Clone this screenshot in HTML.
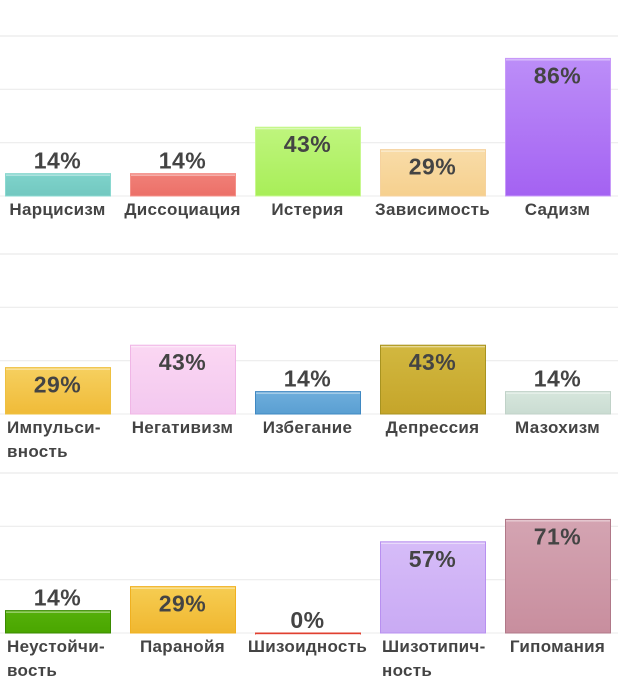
<!DOCTYPE html>
<html><head><meta charset="utf-8"><style>
body{margin:0;background:#fff;}
svg text{font-family:"Liberation Sans","DejaVu Sans",sans-serif;font-weight:bold;fill:#444;}
</style></head><body>
<svg id="c" width="618" height="681"></svg>
<script>
const labels1=["Нарцисизм","Диссоциация","Истерия","Зависимость","Садизм"];
const values1=[14,14,43,29,86];
const labels2=["Импульси-|вность","Негативизм","Избегание","Депрессия","Мазохизм"];
const values2=[29,43,14,43,14];
const labels3=["Неустойчи-|вость","Паранойя","Шизоидность","Шизотипич-|ность","Гипомания"];
const values3=[14,29,0,57,71];
const colors1=[["#7fd3cb","#72c8c0"],["#f08078","#ec7068"],["#bff57e","#a8ee58"],["#f8dca8","#f6d08e"],["#bc8ef8","#a462f2"]];
const colors2=[["#f6d060","#f0bb38"],["#fbd7f3","#f3c8ef"],["#6eaedc","#5a9fd2"],["#d2b840","#c5a52a"],["#d6e6dc","#cadcd2"]];
const colors3=[["#55b00a","#4aa600"],["#f6cd52","#f0b730"],["#ffffff","#ffffff"],["#d6bcf8","#c9aaf4"],["#d4a4b2","#c88e9e"]];
const edge=[["#8ad8d0","#f49088","#c8f890","#f5d29e","#c89af9"],["#eec040","#f0b6e6","#3f88c2","#a89320","#c0d2c8"],["#3a8a00","#f0b020","#e04030","#b890f0","#b07888"]];
const panels=[{l:labels1,v:values1,c:colors1,b:196},{l:labels2,v:values2,c:colors2,b:414},{l:labels3,v:values3,c:colors3,b:633}];
const svg=document.getElementById('c');
const NS='http://www.w3.org/2000/svg';
const scale=1.6, colW=125, barW=105, x0=5;
function y(base,v){return base-v*scale;}
function mk(tag,attrs){const e=document.createElementNS(NS,tag);for(const k in attrs)e.setAttribute(k,attrs[k]);svg.appendChild(e);return e;}
const defs=mk('defs',{});
panels.forEach((p,pi)=>{
  [0,33.33,66.67,100].forEach((g,gi)=>{
    const ln=mk('line',{x1:0,x2:618,y1:y(p.b,g),y2:y(p.b,g),stroke:'#ebebeb','stroke-width':gi==0?1:1.2});
    
    
  });
  p.v.forEach((v,i)=>{
    const gid='g'+pi+'_'+i;
    const lg=document.createElementNS(NS,'linearGradient');
    lg.setAttribute('id',gid);lg.setAttribute('x1',0);lg.setAttribute('y1',0);lg.setAttribute('x2',0);lg.setAttribute('y2',1);
    lg.innerHTML='<stop offset="0" stop-color="'+p.c[i][0]+'"/><stop offset="1" stop-color="'+p.c[i][1]+'"/>';
    defs.appendChild(lg);
    const bx=x0+i*colW, top=y(p.b,v), h=Math.max(p.b-top,1);
    const r=mk('rect',{x:bx+0.5,y:top,width:barW,height:h,fill:'url(#'+gid+')',stroke:edge[pi][i],'stroke-width':1});
    
    
    const hi=mk('line',{x1:bx+1,x2:bx+barW,y1:top+1.5,y2:top+1.5,stroke:'rgba(255,255,255,0.6)','stroke-width':1});
    
    
    const ly=(p.b-top)<35? top-13 : top+17;
    const t=mk('text',{x:bx+barW/2,y:ly+8,'text-anchor':'middle','font-size':23,'letter-spacing':0.5});
    t.textContent=v+'%';
    
    
    const parts=p.l[i].split('|');
    parts.forEach((s,k)=>{
      const multi=parts.length>1;
      const lt=mk('text',{x:multi?bx+2:bx+barW/2,y:p.b+19+k*24,'text-anchor':multi?'start':'middle','font-size':17,'letter-spacing':0.3});
      lt.textContent=s;
      
      
    });
  });
});
</script>
</body></html>
